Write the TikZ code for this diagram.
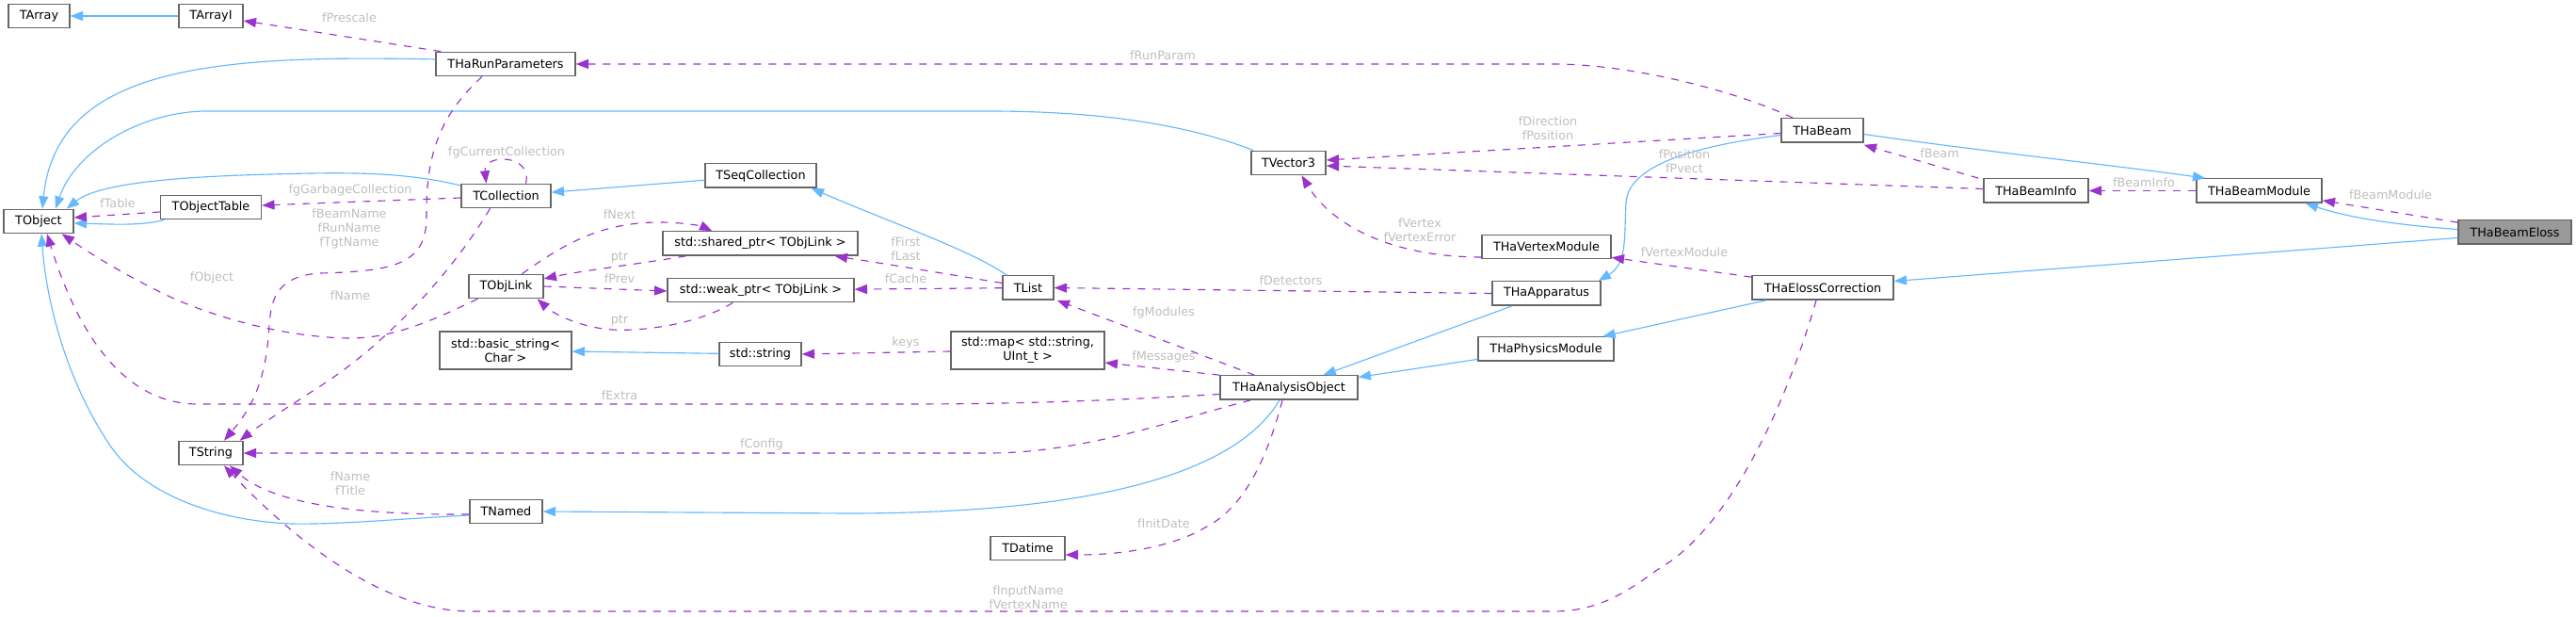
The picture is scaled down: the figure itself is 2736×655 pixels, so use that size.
\documentclass[tikz,border=0pt]{standalone}
\usepackage{fontspec}
\setmainfont{DejaVu Sans}
\usetikzlibrary{arrows.meta,calc}
\definecolor{inhc}{HTML}{63B8FF}
\definecolor{usec}{HTML}{9A32CD}
\definecolor{lblc}{HTML}{BEBEBE}
\definecolor{boxc}{HTML}{666666}
\definecolor{selc}{HTML}{999999}
\begin{document}
\begin{tikzpicture}[x=0.75pt,y=-0.75pt,
  cls/.style={draw=boxc, fill=white, line width=1pt, inner sep=0pt, minimum height=19pt,
    font=\fontsize{9.6}{11.25}\selectfont, align=center},
  two/.style={minimum height=30pt},
  mw/.style={minimum width=#1*0.75pt},
  lbl/.style={text=lblc, inner sep=0pt, font=\fontsize{9.6}{11.25}\selectfont, align=center},
  inh/.style={draw=inhc, line width=0.85pt, -{Triangle[length=10pt,width=7.5pt,fill=inhc]}},
  use/.style={draw=usec, line width=0.85pt, dash pattern=on 6pt off 6pt, -{Triangle[length=10pt,width=7.5pt,fill=usec]}},
]
\useasboundingbox (0,0) rectangle (2736,655);
% ---------------- nodes
\node[cls,mw=65] (TArray) at (41.5,17) {TArray};
\node[cls,mw=68] (TArrayI) at (224,17) {TArrayI};
\node[cls,mw=148] (RunPar) at (537,68) {THaRunParameters};
\node[cls,mw=74] (TObject) at (41,235) {TObject};
\node[cls,mw=107] (TObjectTable) at (224,220) {TObjectTable};
\node[cls,mw=95] (TCollection) at (537.5,208) {TCollection};
\node[cls,mw=79] (TObjLink) at (537.5,304) {TObjLink};
\node[cls,two,mw=140] (basicstr) at (537,372) {std::basic\_string<\\Char >};
\node[cls,mw=68] (TString) at (224,481) {TString};
\node[cls,mw=77] (TNamed) at (537.5,543) {TNamed};
\node[cls,mw=118] (TSeqColl) at (808,186.5) {TSeqCollection};
\node[cls,mw=207] (sharedptr) at (807.5,258.5) {std::shared\_ptr< TObjLink >};
\node[cls,mw=198] (weakptr) at (808,308) {std::weak\_ptr< TObjLink >};
\node[cls,mw=54] (TList) at (1092,305.5) {TList};
\node[cls,mw=87] (stdstring) at (807.5,376) {std::string};
\node[cls,two,mw=163] (stdmap) at (1091.5,372) {std::map< std::string,\\UInt\_t >};
\node[cls,mw=79] (TDatime) at (1091.5,582) {TDatime};
\node[cls,mw=146] (THaAO) at (1369,411.5) {THaAnalysisObject};
\node[cls,mw=79] (TVector3) at (1368.5,173) {TVector3};
\node[cls,mw=137] (THaVM) at (1642.5,262) {THaVertexModule};
\node[cls,mw=115] (THaApp) at (1642.5,311.5) {THaApparatus};
\node[cls,mw=144] (THaPM) at (1642,370.5) {THaPhysicsModule};
\node[cls,mw=87] (THaBeam) at (1935.5,138.5) {THaBeam};
\node[cls,mw=150] (THaEC) at (1936,305.5) {THaElossCorrection};
\node[cls,mw=111] (THaBI) at (2162.5,202.5) {THaBeamInfo};
\node[cls,mw=133] (THaBM) at (2399.5,202.5) {THaBeamModule};
\node[cls,mw=120,fill=selc] (THaBE) at (2671,246.5) {THaBeamEloss};
% ---------------- inheritance
\draw[inh] (TArrayI) -- (TArray);
\draw[inh] ($(RunPar.west)+(0,-5)$) .. controls (230,58) and (60,70) .. ($(TObject.north)+(4,0)$);
\draw[inh] ($(TVector3.north west)+(3,0)$) .. controls (1250,128) and (1150,118) .. (1050,118) -- (220,118) .. controls (150,118) and (80,160) .. ($(TObject.north)+(18,0)$);
\draw[inh] ($(TCollection.west)+(0,-11)$) .. controls (440,185) and (390,183) .. (330,184) .. controls (230,186) and (110,190) .. ($(TObject.north east)+(-8,0)$);
\draw[inh] ($(TObjectTable.south west)+(5,0)$) .. controls (150,240) and (120,238) .. ($(TObject.east)+(0,2)$);
\draw[inh] (TSeqColl) -- (TCollection);
\draw[inh] ($(TList.north west)+(5,0)$) .. controls (1030,265) and (950,238) .. ($(TSeqColl.south east)+(-6,0)$);
\draw[inh] (stdstring) -- (basicstr);
\draw[inh] ($(TNamed.west)+(0,4)$) .. controls (420,551) and (360,557) .. (310,556) .. controls (230,553) and (150,525) .. (115,470) .. controls (75,410) and (50,330) .. ($(TObject.south)+(3,0)$);
\draw[inh] ($(THaAO.south)+(-10,0)$) .. controls (1320,490) and (1200,545) .. (900,545) -- (TNamed.east);
\draw[inh] (THaApp) -- (THaAO);
\draw[inh] (THaPM) -- (THaAO);
\draw[inh] (THaEC) -- (THaPM);
\draw[inh] ($(THaBeam.west)+(0,5)$) .. controls (1800,155) and (1730,175) .. (1727,215) .. controls (1725,255) and (1728,280) .. ($(THaApp.north east)+(-3,0)$);
\draw[inh] ($(THaBeam.east)+(0,4)$) .. controls (2100,160) and (2250,176) .. ($(THaBM.north west)+(10,0)$);
\draw[inh] ($(THaBE.west)+(0,-3)$) .. controls (2560,240) and (2500,233) .. ($(THaBM.south east)+(-18,0)$);
\draw[inh] ($(THaBE.west)+(0,6)$) -- ($(THaEC.east)+(0,-7)$);
% ---------------- usage
\draw[use] ($(RunPar.north west)+(6,0)$) -- ($(TArrayI.east)+(0,5)$);
\draw[use] ($(THaBeam.north west)+(13,0)$) .. controls (1840,95) and (1730,68) .. (1650,68) -- (RunPar.east);
\draw[use] ($(TCollection.north)+(21,0)$) .. controls (566,163) and (513,163) .. ($(TCollection.north)+(-21,0)$);
\draw[use] ($(TCollection.west)+(0,2)$) -- ($(TObjectTable.east)+(0,-2)$);
\draw[use] ($(TObjectTable.west)+(0,5)$) -- ($(TObject.east)+(0,-4)$);
\draw[use] ($(RunPar.south)+(-25,0)$) .. controls (470,120) and (452,160) .. (453,230) .. controls (453,280) and (420,288) .. (340,290) .. controls (292,293) and (288,320) .. (286,345) .. controls (283,400) and (270,430) .. ($(TString.north)+(14,0)$);
\draw[use] ($(TCollection.south)+(-17,0)$) .. controls (480,290) and (410,365) .. (340,410) .. controls (300,436) and (275,452) .. ($(TString.north east)+(-4,0)$);
\draw[use] ($(TObjLink.south west)+(10,0)$) .. controls (470,335) and (420,360) .. (370,359) .. controls (300,358) and (220,335) .. (170,310) .. controls (120,285) and (90,265) .. ($(TObject.south east)+(-13,0)$);
\draw[use] ($(TObjLink.north)+(17,0)$) .. controls (600,258) and (640,236) .. (700,236) .. controls (725,236) and (745,240) .. ($(sharedptr.north west)+(53,0)$);
\draw[use] ($(sharedptr.south west)+(25,0)$) .. controls (680,280) and (620,287) .. ($(TObjLink.east)+(0,-8)$);
\draw[use] (TObjLink.east) -- ($(weakptr.west)+(0,1)$);
\draw[use] ($(weakptr.south west)+(70,0)$) .. controls (740,345) and (680,352) .. (650,350) .. controls (620,348) and (590,335) .. ($(TObjLink.south east)+(-7,0)$);
\draw[use] ($(TList.west)+(0,-5)$) .. controls (1000,290) and (940,280) .. ($(sharedptr.south east)+(-25,0)$);
\draw[use] (TList) -- (weakptr);
\draw[use] (THaApp.west) -- (TList.east);
\draw[use] ($(THaAO.north west)+(37,0)$) -- ($(TList.south east)+(3,0)$);
\draw[use] ($(stdmap.west)+(0,1)$) -- (stdstring.east);
\draw[use] (THaAO.north west) -- ($(stdmap.east)+(0,13)$);
\draw[use] ($(THaAO.west)+(0,7)$) .. controls (1200,424) and (1100,429) .. (960,429) -- (210,429) .. controls (120,429) and (75,330) .. ($(TObject.south)+(9,0)$);
\draw[use] ($(THaAO.south west)+(33,0)$) .. controls (1250,445) and (1150,481) .. (1050,481) -- (TString.east);
\draw[use] ($(TNamed.west)+(0,3)$) .. controls (380,547) and (290,535) .. ($(TString.south)+(20,0)$);
\draw[use] ($(THaAO.south)+(-7,0)$) .. controls (1345,490) and (1320,540) .. (1280,560) .. controls (1250,578) and (1200,589) .. ($(TDatime.east)+(0,7)$);
\draw[use] ($(THaEC.south)+(-7,0)$) .. controls (1900,420) and (1840,560) .. (1760,605) .. controls (1720,635) and (1690,649) .. (1650,649) -- (500,649) .. controls (400,649) and (300,560) .. ($(TString.south)+(14,0)$);
\draw[use] ($(THaEC.north west)+(0,2)$) -- ($(THaVM.south east)+(0,-2)$);
\draw[use] ($(THaVM.west)+(0,11)$) .. controls (1480,273) and (1415,240) .. ($(TVector3.south)+(14,0)$);
\draw[use] ($(THaBeam.west)+(0,3)$) -- ($(TVector3.east)+(0,-3)$);
\draw[use] ($(THaBI.west)+(0,-2)$) -- ($(TVector3.east)+(0,3)$);
\draw[use] ($(THaBI.north west)+(-5,0)$) -- ($(THaBeam.south east)+(0,2)$);
\draw[use] (THaBM) -- (THaBI);
\draw[use] ($(THaBE.north west)+(0,3)$) -- ($(THaBM.south east)+(0,-3)$);
% ---------------- labels
\node[lbl] (l01) at (371,19) {fPrescale};
\node[lbl] (l02) at (1235,59) {fRunParam};
\node[lbl] (l03) at (538,162) {fgCurrentCollection};
\node[lbl] (l04) at (372,202) {fgGarbageCollection};
\node[lbl] (l05) at (125,216) {fTable};
\node[lbl] (l06) at (371,243) {fBeamName\\fRunName\\fTgtName};
\node[lbl] (l07) at (372,314) {fName};
\node[lbl] (l08) at (225,295) {fObject};
\node[lbl] (l09) at (658,228) {fNext};
\node[lbl] (l10) at (658,273) {ptr};
\node[lbl] (l11) at (658,296) {fPrev};
\node[lbl] (l12) at (658,340) {ptr};
\node[lbl] (l13) at (962,264) {fFirst\\fLast};
\node[lbl] (l14) at (962,296) {fCache};
\node[lbl] (l15) at (1371,298) {fDetectors};
\node[lbl] (l16) at (1236,332) {fgModules};
\node[lbl] (l17) at (962,364) {keys};
\node[lbl] (l18) at (1236,379) {fMessages};
\node[lbl] (l19) at (658,420) {fExtra};
\node[lbl] (l20) at (809,472) {fConfig};
\node[lbl] (l21) at (372,513) {fName\\fTitle};
\node[lbl] (l22) at (1236,556) {fInitDate};
\node[lbl] (l23) at (1092,634) {fInputName\\fVertexName};
\node[lbl] (l24) at (1789,268) {fVertexModule};
\node[lbl] (l25) at (1508,244) {fVertex\\fVertexError};
\node[lbl] (l26) at (1644,136) {fDirection\\fPosition};
\node[lbl] (l27) at (1789,171) {fPosition\\fPvect};
\node[lbl] (l28) at (2060,163) {fBeam};
\node[lbl] (l29) at (2277,194) {fBeamInfo};
\node[lbl] (l30) at (2539,207) {fBeamModule};
\end{tikzpicture}
\end{document}
